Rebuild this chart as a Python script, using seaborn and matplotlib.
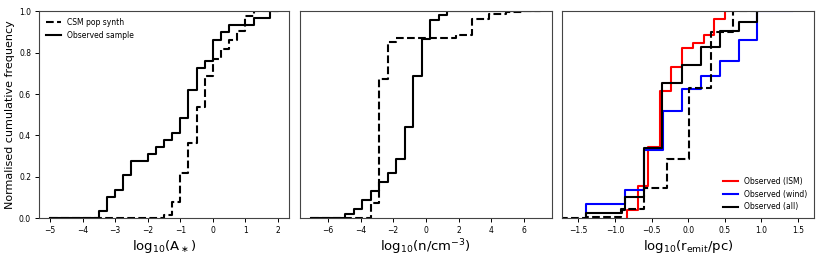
import pandas as pd
import seaborn as sns
import matplotlib
matplotlib.use("Agg")
import matplotlib.pyplot as plt

# Step CDFs: edges[k]..edges[k+1] carries cdf[k]
# Panel 1: log10(A*)
a_obs_edges = [-5.0, -3.5, -3.25, -3.0, -2.75, -2.5, -2.0, -1.75, -1.5, -1.25, -1.0,
               -0.75, -0.5, -0.25, 0.0, 0.25, 0.5, 1.25, 1.75, 2.0]
a_obs_cdf = [0.0, 0.034, 0.103, 0.138, 0.207, 0.276, 0.310, 0.345, 0.379, 0.414,
             0.483, 0.621, 0.724, 0.759, 0.862, 0.897, 0.931, 0.966, 1.0]
a_csm_edges = [-5.0, -1.75, -1.5, -1.25, -1.0, -0.75, -0.5, -0.25, 0.0, 0.25, 0.5,
               0.75, 1.0, 1.25, 2.0]
a_csm_cdf = [0.0, 0.003, 0.015, 0.08, 0.22, 0.365, 0.535, 0.685, 0.77, 0.815, 0.86,
             0.905, 0.975, 1.0]

# Panel 2: log10(n/cm^-3)
n_obs_edges = [-7.0, -4.926, -4.407, -3.889, -3.370, -2.852, -2.333, -1.815, -1.296,
               -0.778, -0.259, 0.259, 0.778, 1.296, 7.0]
n_obs_cdf = [0.0, 0.021, 0.043, 0.088, 0.132, 0.176, 0.221, 0.288, 0.441, 0.689,
             0.865, 0.957, 0.979, 1.0]
n_csm_edges = [-7.0, -3.370, -2.852, -2.333, -1.815, 1.815, 2.852, 3.889, 4.926, 5.963, 7.0]
n_csm_cdf = [0.0, 0.074, 0.673, 0.85, 0.872, 0.885, 0.961, 0.985, 0.994, 1.0]

# Panel 3: log10(r_emit/pc)
ism_edges = [-0.833, -0.69, -0.546, -0.39, -0.24, -0.09, 0.06, 0.21, 0.355, 0.5, 0.61]
ism_cdf = [0.039, 0.154, 0.346, 0.615, 0.731, 0.823, 0.846, 0.885, 0.962, 1.0]
wind_edges = [-1.39, -0.87, -0.607, -0.35, -0.09, 0.17, 0.43, 0.69, 0.94, 1.42]
wind_cdf = [0.071, 0.135, 0.332, 0.518, 0.622, 0.689, 0.76, 0.863, 1.0]
all_edges = [-1.39, -0.9, -0.857, -0.607, -0.355, -0.09, 0.17, 0.43, 0.69, 0.94, 0.95]
all_cdf = [0.026, 0.042, 0.103, 0.34, 0.651, 0.739, 0.828, 0.905, 0.948, 1.0]
r_csm_edges = [-1.75, -1.40, -0.915, -0.605, -0.296, 0.014, 0.314, 0.61, 0.94]
r_csm_cdf = [0.0, 0.005, 0.045, 0.146, 0.288, 0.63, 0.897, 1.0]


def steps(edges, cdf):
    # vertical rise from zero at the first edge, then hold each level to the next edge
    x = [edges[0]] + list(edges)
    y = [0.0] + list(cdf) + [cdf[-1]]
    return pd.DataFrame({"x": x, "y": y})


def draw(ax, edges, cdf, **kw):
    sns.lineplot(data=steps(edges, cdf), x="x", y="y", ax=ax, sort=False,
                 estimator=None, drawstyle="steps-post", lw=1.5, **kw)


plt.rcParams["font.family"] = ["DejaVu Sans"]
fig = plt.figure(figsize=(8.22, 2.59), dpi=100)
ax1 = fig.add_axes([0.0471, 0.157, 0.3049, 0.800])
ax2 = fig.add_axes([0.3650, 0.157, 0.3062, 0.800])
ax3 = fig.add_axes([0.6841, 0.157, 0.3062, 0.800])

# Panel 1
draw(ax1, a_csm_edges, a_csm_cdf, color="k", ls="--", label="CSM pop synth")
draw(ax1, a_obs_edges, a_obs_cdf, color="k", label="Observed sample")
ax1.set_xlim(-5.35, 2.35)
ax1.set_xticks(range(-5, 3))
ax1.set_yticks([0, 0.2, 0.4, 0.6, 0.8, 1.0])
ax1.set_ylabel("Normalised cumulative frequency", fontsize=8, labelpad=3)
ax1.set_xlabel("log$_{10}$(A$_\\ast$)", fontsize=9.5, labelpad=2)
ax1.legend(loc="upper left", frameon=False, fontsize=5.5)

# Panel 2
draw(ax2, n_csm_edges, n_csm_cdf, color="k", ls="--")
draw(ax2, n_obs_edges, n_obs_cdf, color="k")
ax2.set_xlim(-7.7, 7.7)
ax2.set_xticks([-6, -4, -2, 0, 2, 4, 6])
ax2.set_yticks([])
ax2.set_ylabel("")
ax2.set_xlabel("log$_{10}$(n/cm$^{-3}$)", fontsize=9.5, labelpad=2)

# Panel 3
draw(ax3, ism_edges, ism_cdf, color="red", label="Observed (ISM)")
draw(ax3, wind_edges, wind_cdf, color="blue", label="Observed (wind)")
draw(ax3, all_edges, all_cdf, color="k", label="Observed (all)")
draw(ax3, r_csm_edges, r_csm_cdf, color="k", ls="--")
ax3.set_xlim(-1.72, 1.72)
ax3.set_xticks([-1.5, -1.0, -0.5, 0.0, 0.5, 1.0, 1.5])
ax3.set_yticks([])
ax3.set_ylabel("")
ax3.set_xlabel("log$_{10}$(r$_{\\rm emit}$/pc)", fontsize=9.5, labelpad=2)
ax3.legend(loc="lower right", frameon=False, fontsize=5.5)

for ax in (ax1, ax2, ax3):
    ax.set_ylim(0, 1)
    ax.tick_params(labelsize=5.5, length=3, width=0.7, pad=2.5)
    for s in ax.spines.values():
        s.set_linewidth(0.8)
        s.set_color("#444444")

fig.savefig("out.png", dpi=100)
